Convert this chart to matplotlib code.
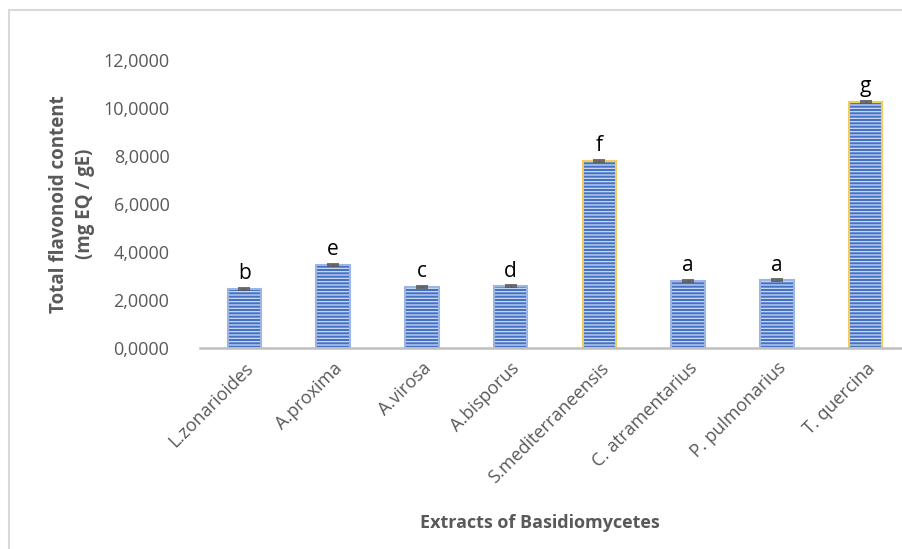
import numpy as np
import matplotlib.pyplot as plt
from matplotlib.patches import Rectangle
from matplotlib.ticker import FuncFormatter

plt.rcParams['font.family'] = ['Open Sans', 'DejaVu Sans']
plt.rcParams['hatch.linewidth'] = 0.9

species = ["L.zonarioides", "A.proxima", "A.virosa", "A.bisporus",
           "S.mediterraneensis", "C. atramentarius", "P. pulmonarius", "T. quercina"]
flavonoids = [2.46, 3.47, 2.54, 2.58, 7.80, 2.79, 2.83, 10.26]
errors = [0.04, 0.05, 0.04, 0.04, 0.04, 0.04, 0.04, 0.04]
letters = ["b", "e", "c", "d", "f", "a", "a", "g"]
edge_cols = ["#9db5e3", "#9db5e3", "#9db5e3", "#9db5e3",
             "#f2cc5c", "#9db5e3", "#9db5e3", "#f2cc5c"]

fig = plt.figure(figsize=(9.02, 5.49), dpi=100)
ax = fig.add_axes([200/902, 1-348/549, 710/902, 288/549])

x = np.arange(len(species))
bars = ax.bar(x, flavonoids, width=0.38, color="#4471c4", edgecolor=edge_cols,
              linewidth=1.5, hatch="-----", zorder=2)
for b in bars:
    b._hatch_color = (0.80, 0.86, 0.96, 1.0)
ax.errorbar(x, flavonoids, yerr=errors, fmt="none", ecolor="#595959",
            elinewidth=0.8, capsize=4, capthick=1.2, zorder=3)

for xi, v, e, lab in zip(x, flavonoids, errors, letters):
    ax.text(xi, v + e + 0.15, lab, ha="center", va="bottom", fontsize=15, color="black")

ax.set_xlim(-0.5, 7.5)
ax.set_ylim(0, 12)
ax.set_yticks(np.arange(0, 13, 2))
ax.yaxis.set_major_formatter(FuncFormatter(lambda v, p: f"{v:.4f}".replace(".", ",")))
ax.tick_params(axis="y", length=0, pad=22, labelsize=13, labelcolor="#595959")
ax.tick_params(axis="x", length=0, pad=8, labelsize=13, labelcolor="#595959")
ax.set_xticks(x)
ax.set_xticklabels(species, rotation=45, ha="right", va="top", rotation_mode="anchor")

for s in ["top", "right", "left"]:
    ax.spines[s].set_visible(False)
ax.spines["bottom"].set_color("#bfbfbf")
ax.spines["bottom"].set_linewidth(1.8)

fig.text(72/902, 1-204/549, "Total flavonoid content\n(mg EQ / gE)", rotation=90,
         ha="center", va="center", fontsize=13.5, fontweight="bold", color="#595959",
         linespacing=1.4)
fig.text(540/902, 1-523/549, "Extracts of Basidiomycetes", ha="center", va="center",
         fontsize=13, fontweight="bold", color="#595959")

fig.patches.append(Rectangle((8.5/902, -0.1), 1.2, 1 - 10/549 + 0.1, transform=fig.transFigure,
                             fill=False, edgecolor="#d9d9d9", linewidth=1.5))

fig.savefig("out.png", dpi=100)
